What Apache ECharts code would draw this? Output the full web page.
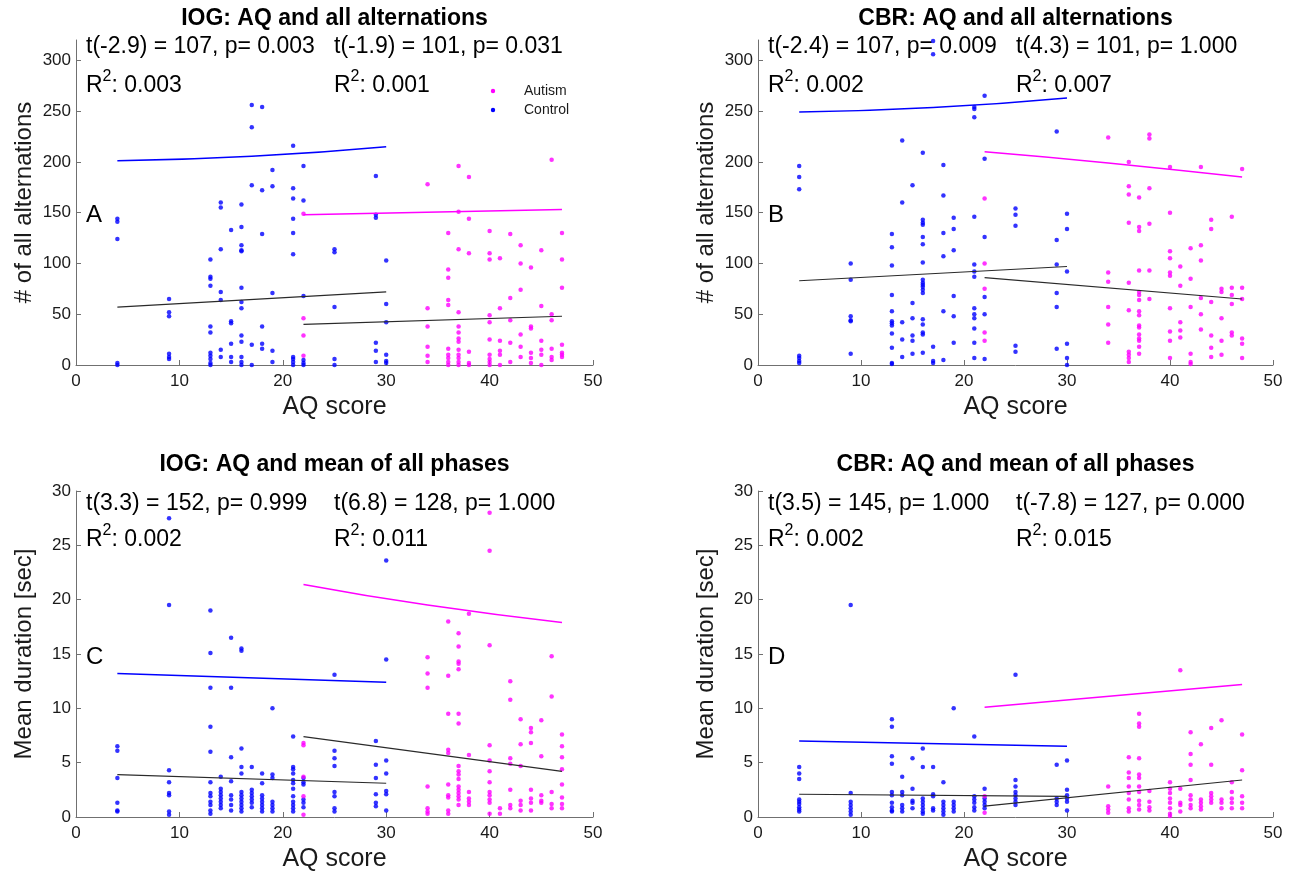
<!DOCTYPE html>
<html>
<head>
<meta charset="utf-8">
<script src="https://cdn.jsdelivr.net/npm/echarts@6/dist/echarts.min.js"></script>
<style>
  html, body { margin: 0; padding: 0; background: #ffffff; }
  #chart { width: 1298px; height: 877px; }
</style>
</head>
<body>
<div id="chart"></div>
<script>
// ---------------- DATA ----------------
// Each entry: [AQ score, [values at that score]]
const iogAltControl = [
  [4, [144, 141, 124, 2, 0]],
  [9, [65, 52, 48, 11, 8, 6]],
  [13, [104, 87, 85, 78, 38, 32, 12, 9, 6, 2, 0]],
  [14, [160, 155, 114, 72, 64, 15, 8]],
  [15, [133, 43, 41, 21, 8, 3]],
  [16, [158, 136, 118, 113, 112, 76, 62, 56, 29, 23, 8, 3, 0]],
  [17, [256, 234, 177, 20, 0]],
  [18, [254, 172, 129, 38, 21, 16]],
  [19, [192, 176, 71, 14, 3]],
  [21, [216, 174, 164, 144, 130, 109, 8, 6, 3, 0]],
  [22, [196, 162, 68, 5, 2, 0]],
  [25, [114, 111, 57, 6, 0]],
  [29, [186, 148, 145, 22, 14, 3]],
  [30, [103, 60, 42, 10, 4, 2]]
];
const iogAltAutism = [
  [22, [149, 46, 29, 9]],
  [34, [178, 56, 38, 18, 9, 3]],
  [36, [130, 94, 86, 64, 59, 16, 10, 7, 3, 0]],
  [37, [196, 151, 114, 52, 38, 32, 26, 23, 15, 10, 7, 3, 0]],
  [38, [185, 144, 110, 13, 2, 0]],
  [40, [132, 110, 104, 49, 42, 25, 10, 6, 3, 0]],
  [41, [105, 56, 24, 14, 10, 0]],
  [42, [129, 66, 44, 22, 3]],
  [43, [118, 100, 74, 30, 18, 8]],
  [44, [96, 38, 36, 12, 7, 2]],
  [45, [113, 58, 24, 15, 10, 0]],
  [46, [202, 50, 44, 16, 8, 5]],
  [47, [130, 104, 76, 20, 12, 10, 8]]
];
const cbrAltControl = [
  [4, [196, 185, 173, 9, 7, 4, 2]],
  [9, [100, 84, 48, 44, 43, 11]],
  [13, [129, 116, 98, 69, 53, 43, 41, 39, 31, 17, 2, 1]],
  [14, [221, 160, 42, 25, 8]],
  [15, [177, 61, 46, 29, 24, 11]],
  [16, [209, 143, 140, 138, 126, 119, 101, 84, 81, 79, 77, 74, 71, 45, 40, 32, 30, 12]],
  [17, [319, 306, 18, 4, 2]],
  [18, [197, 167, 130, 107, 53, 5]],
  [19, [145, 134, 113, 68, 48, 22]],
  [21, [254, 252, 244, 146, 99, 92, 87, 56, 50, 46, 36, 22, 7]],
  [22, [265, 203, 126, 67, 50, 6]],
  [25, [154, 148, 137, 19, 13]],
  [29, [230, 123, 99, 71, 57, 16]],
  [30, [149, 134, 92, 21, 7, 0]]
];
const cbrAltAutism = [
  [22, [164, 100, 75, 32, 24]],
  [34, [224, 91, 82, 57, 40, 22]],
  [36, [200, 176, 168, 140, 81, 54, 13, 10, 7, 3]],
  [37, [165, 136, 132, 93, 72, 69, 64, 53, 49, 39, 37, 30, 26, 24, 18, 11]],
  [38, [227, 223, 174, 139, 93, 65]],
  [40, [195, 150, 112, 105, 91, 88, 56, 33, 24, 7]],
  [41, [97, 78, 42, 34, 27]],
  [42, [115, 85, 57, 11, 3, 1]],
  [43, [195, 118, 103, 66, 50, 35]],
  [44, [143, 134, 62, 29, 17, 8]],
  [45, [75, 72, 46, 24, 10]],
  [46, [146, 76, 69, 60, 32, 29]],
  [47, [193, 76, 65, 26, 21, 7]]
];
const iogDurControl = [
  [4, [6.5, 6.1, 3.6, 1.3, 0.6, 0.5]],
  [9, [27.5, 19.5, 4.3, 3.2, 2.2, 2.0, 0.5, 0.2]],
  [13, [19.0, 15.1, 11.9, 8.3, 6.0, 3.2, 2.2, 1.9, 1.4, 1.1, 0.6, 0.3]],
  [14, [3.7, 2.6, 2.3, 2.0, 1.7, 1.4, 1.1, 0.8]],
  [15, [16.5, 11.9, 5.5, 3.3, 2.0, 1.6, 1.1, 0.6]],
  [16, [15.5, 15.3, 6.3, 4.6, 4.0, 2.3, 2.0, 1.7, 1.4, 1.1, 0.8, 0.5]],
  [17, [4.6, 2.5, 2.2, 1.9, 1.6, 1.3, 0.9]],
  [18, [4.0, 3.1, 2.0, 1.7, 1.4, 1.1, 0.8, 0.5]],
  [19, [10.0, 3.9, 3.6, 1.4, 1.1, 0.8, 0.5]],
  [21, [7.4, 4.6, 4.4, 4.0, 3.4, 3.1, 2.6, 1.9, 1.4, 1.1, 0.8, 0.5]],
  [22, [3.6, 3.2, 3.0, 1.6, 1.3, 0.9]],
  [25, [13.1, 6.1, 5.4, 4.7, 2.3, 1.9, 0.8, 0.5]],
  [29, [7.0, 4.8, 3.6, 2.1, 1.3, 1.0]],
  [30, [23.6, 14.5, 5.2, 4.0, 2.4, 2.1, 0.6]]
];
const iogDurAutism = [
  [22, [6.8, 6.6, 3.7, 1.9, 0.2]],
  [34, [14.7, 13.2, 11.9, 2.8, 0.8, 0.5, 0.3]],
  [36, [18.0, 13.0, 9.5, 6.2, 5.9, 3.0, 2.0, 1.8, 0.6, 0.3]],
  [37, [16.9, 15.7, 14.3, 14.1, 13.6, 9.5, 8.6, 4.7, 4.2, 3.9, 3.5, 2.8, 2.5, 2.2, 1.9, 1.6, 1.1]],
  [38, [18.7, 5.7, 2.3, 1.7, 1.4, 1.1]],
  [40, [28.0, 24.5, 15.8, 6.6, 5.2, 4.2, 3.2, 2.3, 2.0, 1.6, 1.3, 0.3]],
  [41, [0.8, 0.3]],
  [42, [12.5, 10.8, 5.4, 4.9, 2.5, 1.1, 0.8]],
  [43, [9.0, 6.7, 4.7, 1.5, 1.1, 0.6]],
  [44, [8.2, 7.8, 6.8, 2.5, 1.7, 1.3, 0.6]],
  [45, [8.9, 5.6, 2.0, 1.5, 1.3]],
  [46, [14.8, 11.1, 2.3, 1.2, 0.8]],
  [47, [7.6, 6.5, 5.5, 4.4, 3.0, 1.8, 1.2, 0.8]]
];
const cbrDurControl = [
  [4, [4.6, 4.0, 3.5, 1.6, 1.4, 1.2, 0.9, 0.7, 0.5]],
  [9, [19.5, 2.2, 1.4, 1.1, 0.8, 0.5, 0.2]],
  [13, [9.0, 8.3, 5.6, 4.9, 2.3, 2.0, 1.3, 0.9, 0.6, 0.5]],
  [14, [3.7, 2.3, 2.0, 1.1, 0.8, 0.5]],
  [15, [5.4, 2.6, 1.5, 1.3, 0.8]],
  [16, [6.3, 4.6, 1.7, 1.4, 1.1, 0.8, 0.5, 0.3]],
  [17, [4.6, 2.1, 1.9, 0.8, 0.6]],
  [18, [3.2, 1.4, 1.1, 0.8, 0.5, 0.2]],
  [19, [10.0, 1.4, 1.1, 0.8, 0.5]],
  [21, [7.4, 1.9, 1.6, 1.3, 0.9, 0.6]],
  [22, [2.6, 1.7, 1.4, 1.1, 0.8]],
  [25, [13.1, 3.4, 2.8, 2.3, 2.0, 1.7, 1.4, 1.1]],
  [29, [4.8, 1.7, 1.4, 1.1]],
  [30, [5.2, 2.5, 2.0, 1.7, 1.4, 0.6]]
];
const cbrDurAutism = [
  [22, [1.9, 0.4]],
  [34, [2.8, 1.0, 0.7, 0.4]],
  [36, [5.5, 4.1, 3.6, 2.8, 2.2, 1.6, 0.8, 0.5]],
  [37, [9.5, 8.6, 8.3, 5.4, 3.9, 3.6, 2.8, 2.3, 1.5, 1.1, 0.7]],
  [38, [2.4, 1.4, 0.9, 0.6]],
  [40, [3.2, 2.6, 2.2, 1.7, 1.3, 0.8, 0.3, 0.1]],
  [41, [13.5, 2.6, 1.3, 1.1, 0.5]],
  [42, [7.8, 5.8, 4.8, 3.4, 2.0, 1.6, 1.1, 0.8]],
  [43, [6.7, 1.6, 1.3, 1.0, 0.7]],
  [44, [8.2, 4.8, 2.2, 1.9, 1.6, 1.3]],
  [45, [8.9, 1.6, 1.3, 0.8]],
  [46, [3.2, 2.3, 1.7, 1.3, 0.8]],
  [47, [7.6, 4.3, 1.9, 1.3, 0.8]]
];

// Fit lines [AQ, value]
const iogAltFitControl = [[4, 201], [17, 205.5], [30, 215]];
const iogAltFitAutism = [[22, 148], [47, 153]];
const iogAltTrendControl = [[4, 57], [30, 72]];
const iogAltTrendAutism = [[22, 40], [47, 48]];

const cbrAltFitControl = [[4, 249], [17, 253.5], [30, 263]];
const cbrAltFitAutism = [[22, 210], [34, 199], [47, 185]];
const cbrAltTrendControl = [[4, 83], [30, 97]];
const cbrAltTrendAutism = [[22, 86], [47, 65]];

const iogDurFitControl = [[4, 13.2], [30, 12.4]];
const iogDurFitAutism = [[22, 21.4], [34, 19.5], [47, 17.9]];
const iogDurTrendControl = [[4, 3.9], [30, 3.1]];
const iogDurTrendAutism = [[22, 7.4], [47, 4.2]];

const cbrDurFitControl = [[4, 7.0], [30, 6.5]];
const cbrDurFitAutism = [[22, 10.1], [47, 12.2]];
const cbrDurTrendControl = [[4, 2.1], [30, 1.9]];
const cbrDurTrendAutism = [[22, 1.0], [47, 3.4]];

// Tick labels
const xTicks = [0, 10, 20, 30, 40, 50];
const altTicks = [0, 50, 100, 150, 200, 250, 300];
const durTicks = [0, 5, 10, 15, 20, 25, 30];

// Texts
const panelTitles = ['IOG: AQ and all alternations', 'CBR: AQ and all alternations',
                     'IOG: AQ and mean of all phases', 'CBR: AQ and mean of all phases'];
const panelLetters = ['A', 'B', 'C', 'D'];
const statsLeft = ['t(-2.9) = 107, p= 0.003', 't(-2.4) = 107, p= 0.009',
                   't(3.3) = 152, p= 0.999', 't(3.5) = 145, p= 1.000'];
const statsRight = ['t(-1.9) = 101, p= 0.031', 't(4.3) = 101, p= 1.000',
                    't(6.8) = 128, p= 1.000', 't(-7.8) = 127, p= 0.000'];
const r2Left = ['0.003', '0.002', '0.002', '0.002'];
const r2Right = ['0.001', '0.007', '0.011', '0.015'];
const yNames = ['# of all alternations', '# of all alternations', 'Mean duration [sec]', 'Mean duration [sec]'];
const xName = 'AQ score';
const groupNames = ['Autism', 'Control'];

// ---------------- BUILD ----------------
const FONT = '"Liberation Sans", Arial, Helvetica, sans-serif';
const TXT = '#1a1a1a';
const AXC = '#707070';
const BLUE = '#0000ff';
const MAG = '#ff00ff';
const STAT_FS = 23;

const expand = groups => groups.flatMap(([aq, vals]) => vals.map(v => [aq, v]));

const panels = [
  { control: iogAltControl, autism: iogAltAutism, fitC: iogAltFitControl, fitA: iogAltFitAutism, trC: iogAltTrendControl, trA: iogAltTrendAutism, max: 320, ticks: altTicks, interval: 50 },
  { control: cbrAltControl, autism: cbrAltAutism, fitC: cbrAltFitControl, fitA: cbrAltFitAutism, trC: cbrAltTrendControl, trA: cbrAltTrendAutism, max: 320, ticks: altTicks, interval: 50 },
  { control: iogDurControl, autism: iogDurAutism, fitC: iogDurFitControl, fitA: iogDurFitAutism, trC: iogDurTrendControl, trA: iogDurTrendAutism, max: 30, ticks: durTicks, interval: 5 },
  { control: cbrDurControl, autism: cbrDurAutism, fitC: cbrDurFitControl, fitA: cbrDurFitAutism, trC: cbrDurTrendControl, trA: cbrDurTrendAutism, max: 30, ticks: durTicks, interval: 5 }
];

const boxes = [
  { left: 76, top: 40, width: 517, height: 325 },
  { left: 758, top: 40, width: 515, height: 325 },
  { left: 76, top: 491, width: 517, height: 326 },
  { left: 758, top: 491, width: 515, height: 326 }
];

const grid = boxes.map(b => ({ left: b.left, top: b.top, width: b.width, height: b.height, containLabel: false }));

const xAxis = boxes.map((b, i) => ({
  type: 'value', gridIndex: i, min: 0, max: 50, interval: 10,
  name: xName, nameLocation: 'middle', nameGap: 30,
  nameTextStyle: { fontSize: 25, color: TXT, fontFamily: FONT },
  axisLine: { show: true, lineStyle: { color: AXC, width: 1 } },
  axisTick: { show: true, inside: true, length: 5, lineStyle: { color: AXC }, customValues: xTicks },
  axisLabel: { fontSize: 17, color: TXT, fontFamily: FONT, margin: 8, customValues: xTicks },
  splitLine: { show: false }
}));

const yAxis = panels.map((p, i) => ({
  type: 'value', gridIndex: i, min: 0, max: p.max, interval: p.interval,
  name: yNames[i], nameLocation: 'middle', nameGap: 40, nameRotate: 90,
  nameTextStyle: { fontSize: 24, color: TXT, fontFamily: FONT },
  axisLine: { show: true, lineStyle: { color: AXC, width: 1 } },
  axisTick: { show: true, inside: true, length: 5, lineStyle: { color: AXC }, customValues: p.ticks },
  axisLabel: { fontSize: 17, color: TXT, fontFamily: FONT, margin: 5, customValues: p.ticks },
  splitLine: { show: false }
}));

const series = [];
panels.forEach((p, i) => {
  series.push({ type: 'scatter', name: groupNames[1], xAxisIndex: i, yAxisIndex: i, data: expand(p.control),
    symbol: 'circle', symbolSize: 4.5, itemStyle: { color: BLUE }, z: 2, silent: true });
  series.push({ type: 'scatter', name: groupNames[0], xAxisIndex: i, yAxisIndex: i, data: expand(p.autism),
    symbol: 'circle', symbolSize: 4.5, itemStyle: { color: MAG }, z: 2, silent: true });
  const line = (data, color, width) => ({ type: 'line', xAxisIndex: i, yAxisIndex: i, data, smooth: data.length > 2,
    symbol: 'none', lineStyle: { color, width }, z: 3, silent: true });
  series.push(line(p.fitC, BLUE, 1.5));
  series.push(line(p.fitA, MAG, 1.5));
  series.push(line(p.trC, '#2a2a2a', 1.1));
  series.push(line(p.trA, '#2a2a2a', 1.1));
});

const graphic = [];
const tstyle = { fontSize: STAT_FS, fontFamily: FONT, fill: '#000', align: 'left', verticalAlign: 'middle' };
function addR2(x, y, val) {
  graphic.push({ type: 'text', x: x, y: y, style: Object.assign({}, tstyle, { text: 'R' }) });
  const rW = STAT_FS * 0.722;
  graphic.push({ type: 'text', x: x + rW, y: y - 9, style: Object.assign({}, tstyle, { text: '2', fontSize: 16 }) });
  graphic.push({ type: 'text', x: x + rW + 16 * 0.556, y: y, style: Object.assign({}, tstyle, { text: ': ' + val }) });
}
boxes.forEach((b, i) => {
  const top = i < 2;
  graphic.push({ type: 'text', x: b.left + b.width / 2, y: top ? 19 : 465,
    style: { text: panelTitles[i], fontSize: 23, fontWeight: 'bold', fontFamily: FONT, fill: '#000', align: 'center', verticalAlign: 'middle' } });
  const ty = top ? b.top + 7 : b.top + 13;
  const ry = top ? b.top + 46 : b.top + 49;
  const lx = b.left + 10, rx = b.left + 258;
  graphic.push({ type: 'text', x: lx, y: ty, style: Object.assign({}, tstyle, { text: statsLeft[i] }) });
  graphic.push({ type: 'text', x: rx, y: ty, style: Object.assign({}, tstyle, { text: statsRight[i] }) });
  addR2(lx, ry, r2Left[i]);
  addR2(rx, ry, r2Right[i]);
  graphic.push({ type: 'text', x: lx, y: top ? 215 : 657,
    style: { text: panelLetters[i], fontSize: 24, fontFamily: FONT, fill: '#000', align: 'left', verticalAlign: 'middle' } });
});
// legend (panel A)
graphic.push({ type: 'circle', shape: { cx: 493, cy: 91, r: 2.2 }, style: { fill: MAG } });
graphic.push({ type: 'circle', shape: { cx: 493, cy: 110, r: 2.2 }, style: { fill: BLUE } });
graphic.push({ type: 'text', x: 524, y: 91, style: { text: groupNames[0], fontSize: 14, fontFamily: FONT, fill: TXT, align: 'left', verticalAlign: 'middle' } });
graphic.push({ type: 'text', x: 524, y: 110, style: { text: groupNames[1], fontSize: 14, fontFamily: FONT, fill: TXT, align: 'left', verticalAlign: 'middle' } });

const chart = echarts.init(document.getElementById('chart'), null, { renderer: 'canvas' });
chart.setOption({
  backgroundColor: '#ffffff',
  animation: false,
  grid, xAxis, yAxis, series, graphic
});
</script>
</body>
</html>
